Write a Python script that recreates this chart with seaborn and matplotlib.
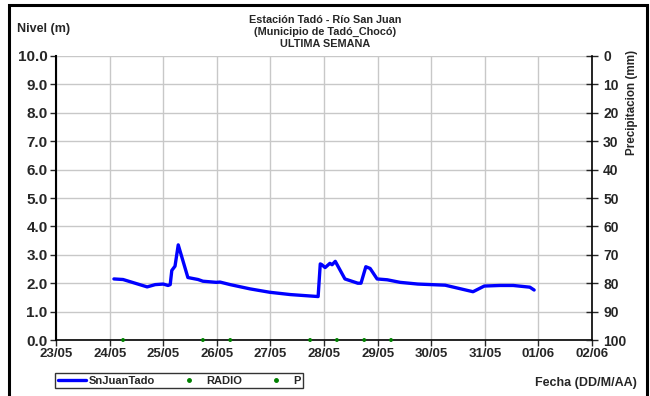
import pandas as pd
import matplotlib.pyplot as plt
import matplotlib.dates as mdates
from matplotlib.lines import Line2D
from matplotlib.patches import Rectangle
import seaborn as sns

# =============================
# DATA
# =============================
inicio = pd.Timestamp('2024-05-23')

# days after 23/05 and level (m)
nivel_dias = [1.08, 1.25, 1.70, 1.85, 2.00, 2.09, 2.13, 2.16, 2.22, 2.28,
              2.46, 2.65, 2.74, 2.99, 3.06, 3.25, 3.62, 3.99, 4.37, 4.74,
              4.89, 4.93, 4.96, 5.02, 5.11, 5.15, 5.21, 5.39, 5.63, 5.69,
              5.78, 5.86, 5.99, 6.18, 6.42, 6.75, 7.26, 7.78, 7.99, 8.28,
              8.53, 8.84, 8.92]
nivel_m = [2.15, 2.13, 1.87, 1.95, 1.97, 1.92, 1.95, 2.45, 2.60, 3.35,
           2.20, 2.13, 2.07, 2.03, 2.04, 1.95, 1.80, 1.68, 1.60, 1.55,
           1.53, 2.68, 2.65, 2.55, 2.70, 2.65, 2.77, 2.15, 2.00, 2.00,
           2.58, 2.52, 2.15, 2.12, 2.03, 1.97, 1.93, 1.70, 1.90, 1.92,
           1.92, 1.86, 1.76]

# green markers sitting on the x axis
lluvia_dias = [1.25, 2.74, 3.25, 4.74, 5.24, 5.75, 6.25]
lluvia_val = [0, 0, 0, 0, 0, 0, 0]

df_nivel = pd.DataFrame({'Fecha': inicio + pd.to_timedelta(nivel_dias, unit='D'),
                         'Nivel': nivel_m})
df_lluvia = pd.DataFrame({'Fecha': inicio + pd.to_timedelta(lluvia_dias, unit='D'),
                          'Valor': lluvia_val})

# =============================
# PLOT
# =============================
sns.set_style('white')
plt.rcParams['font.family'] = ['Liberation Sans', 'DejaVu Sans']
plt.rcParams['font.weight'] = 'bold'

fig = plt.figure(figsize=(6.5, 3.96), dpi=100)
ax = fig.add_axes([0.0862, 0.1414, 0.8246, 0.7172])

sns.lineplot(data=df_nivel, x='Fecha', y='Nivel', color='#0000FF', linewidth=2.4, ax=ax)
sns.scatterplot(data=df_lluvia, x='Fecha', y='Valor', color='#008000', s=8,
                edgecolor='none', ax=ax, clip_on=False, zorder=5)

ax.set_xlim(inicio, inicio + pd.Timedelta(days=10))
ax.set_ylim(0, 10)
ax.set_yticks([i for i in range(11)])
ax.yaxis.set_major_formatter(plt.FormatStrFormatter('%.1f'))
ax.xaxis.set_major_locator(mdates.DayLocator())
ax.xaxis.set_major_formatter(mdates.DateFormatter('%d/%m'))
ax.set_xlabel('')
ax.set_ylabel('')
ax.grid(True, color='#c8c8c8', linewidth=1)
ax.tick_params(axis='y', labelsize=11, length=4, width=1, direction='out', left=True, pad=2)
ax.tick_params(axis='x', labelsize=9.5, length=4, width=1, direction='out', bottom=True, pad=2)
for lab in ax.get_xticklabels() + ax.get_yticklabels():
    lab.set_fontweight('bold')

ax.spines['top'].set_visible(False)
ax.spines['right'].set_visible(False)
ax.spines['left'].set_color('black')
ax.spines['left'].set_linewidth(1.5)
ax.spines['bottom'].set_color('black')
ax.spines['bottom'].set_linewidth(1.2)

ax2 = ax.twinx()
ax2.set_ylim(100, 0)
ax2.set_yticks(list(range(0, 101, 10)))
ax2.tick_params(axis='y', labelsize=10, length=8, width=1, direction='inout', right=True, pad=4)
for lab in ax2.get_yticklabels():
    lab.set_fontweight('bold')
for s in ['top', 'left', 'bottom']:
    ax2.spines[s].set_visible(False)
ax2.spines['right'].set_color('black')
ax2.spines['right'].set_linewidth(1.2)

# texts
fig.text(0.5, 0.963, 'Estación Tadó - Río San Juan\n(Municipio de Tadó_Chocó)\nULTIMA SEMANA',
         ha='center', va='top', fontsize=7.8, fontweight='bold', linespacing=1.25)
fig.text(0.026, 0.927, 'Nivel (m)', ha='left', va='center', fontsize=9, fontweight='bold')
fig.text(0.98, 0.033, 'Fecha (DD/M/AA)', ha='right', va='center', fontsize=9, fontweight='bold')
fig.text(631.5 / 650, 1 - 102 / 396, 'Precipitacion (mm)', rotation=90, ha='center',
         va='center', fontsize=8.4, fontweight='bold')

handles = [Line2D([], [], color='#0000FF', lw=2.4),
           Line2D([], [], color='#008000', marker='o', ls='none', markersize=2.5),
           Line2D([], [], color='#008000', marker='o', ls='none', markersize=2.5)]
leg = fig.legend(handles, ['SnJuanTado', 'RADIO', 'P'], ncol=3, loc='center',
                 bbox_to_anchor=(179 / 650, 0.039), fontsize=8, frameon=True,
                 fancybox=False, edgecolor='black', handlelength=2.6,
                 columnspacing=1.8, borderpad=0.25, handletextpad=0.2)
leg.get_frame().set_linewidth(1.0)
for t in leg.get_texts():
    t.set_fontweight('bold')

fig.patches.append(Rectangle((8.5 / 650, -0.02), 638 / 650, 1.02 - 5 / 396,
                             transform=fig.transFigure, fill=False,
                             edgecolor='black', linewidth=2.2))

plt.savefig('out.png', dpi=100)
plt.close()
